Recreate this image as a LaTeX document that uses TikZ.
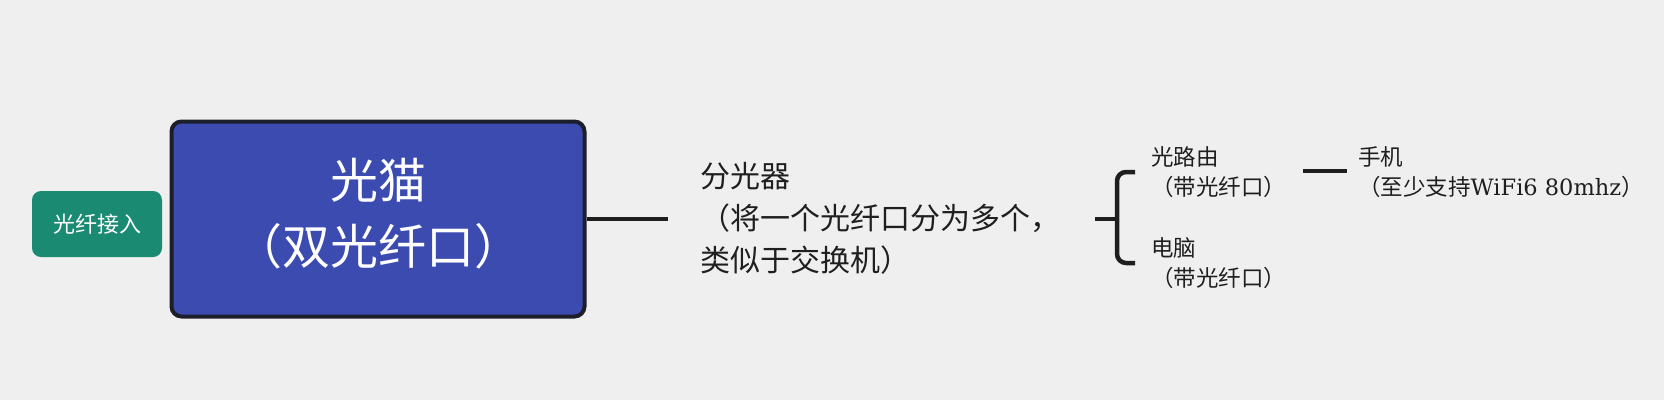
\documentclass[tikz,border=0pt]{standalone}
\usepackage{fontspec}
\setmainfont{Noto Sans CJK SC}
\newfontfamily\latserif{DejaVu Serif}
\definecolor{bgc}{HTML}{EFEFEF}
\definecolor{tealc}{HTML}{1A8A73}
\definecolor{bluec}{HTML}{3B4BB0}
\definecolor{edgec}{HTML}{1C1E2A}
\definecolor{linec}{HTML}{1E1E1E}
\tikzset{
  conn/.style={draw=linec, line width=4pt},
  plain/.style={inner sep=0pt, align=left, text=black!88},
}
\begin{document}
\begin{tikzpicture}[x=1pt,y=-1pt]
\fill[bgc] (0,0) rectangle (1664,400);
\useasboundingbox (0,0) rectangle (1664,400);
% input box
\node[fill=tealc, rounded corners=9pt, minimum width=130pt, minimum height=66pt, text=white, font=\fontsize{22}{26}\selectfont] (in) at (97,224) {光纤接入};
% main box
\node[fill=bluec, draw=edgec, line width=4pt, rounded corners=10pt, minimum width=413pt, minimum height=195pt] (cat) at (378,219) {};
\node[text=white, align=center, inner sep=0pt, font=\fontsize{48}{66}\selectfont] (cattext) at ([yshift=5pt]cat.center) {光猫\\（双光纤口）};
% splitter text
\node[plain, anchor=west, font=\fontsize{30}{42}\selectfont] (fen) at (700,218) {分光器\\（将一个光纤口分为多个，\\类似于交换机）};
\coordinate (fenin) at (668,219);
\draw[conn] (cat.east) -- (fenin);
% router and pc
\node[plain, anchor=west, font=\fontsize{22.5}{30}\selectfont] (lu) at (1151,172) {光路由\\（带光纤口）};
\node[plain, anchor=west, font=\fontsize{22.5}{30}\selectfont] (pc) at (1151,263) {电脑\\（带光纤口）};
\coordinate (bs) at (1095,219);
\coordinate (br) at (1117,219);
\draw[conn, line width=4.5pt] (bs) -- (br);
\draw[conn, line width=4.5pt, rounded corners=9pt] ([xshift=-16pt]lu.west) -| (br) |- ([xshift=-16pt]pc.west);
% phone
\node[plain, anchor=west, font=\fontsize{22.5}{30}\selectfont] (ph) at (1358,172) {手机\\（至少支持{\latserif WiFi6 80mhz}）};
\coordinate (ls) at (1303,171);
\coordinate (le) at (1347,171);
\draw[conn] (ls) -- (le);
\end{tikzpicture}
\end{document}
